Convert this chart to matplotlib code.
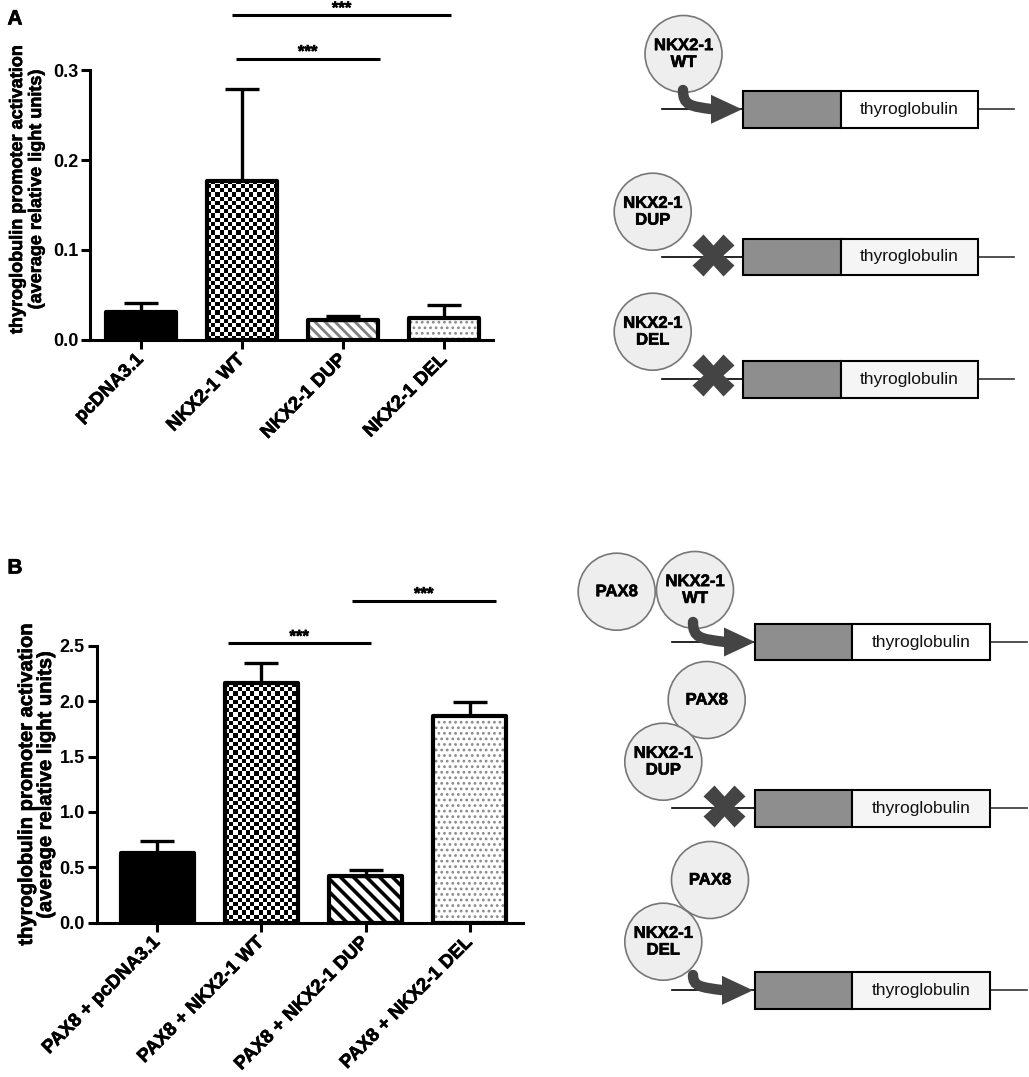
import numpy as np
import matplotlib
matplotlib.use("Agg")
import matplotlib.pyplot as plt
import matplotlib.patheffects as pe
from matplotlib.patches import Circle, Rectangle, Polygon, PathPatch
from matplotlib.path import Path

plt.rcParams['font.family'] = ['Liberation Sans', 'DejaVu Sans']
plt.rcParams['font.weight'] = 'bold'
plt.rcParams['hatch.linewidth'] = 1.2

W, H = 1029, 1077

# panel A : NKX2-1 alone
labels_a = ["pcDNA3.1", "NKX2-1 WT", "NKX2-1 DUP", "NKX2-1 DEL"]
means_a = [0.031, 0.177, 0.022, 0.025]
sem_a = [0.010, 0.102, 0.005, 0.014]

# panel B : PAX8 + NKX2-1
labels_b = ["PAX8 + pcDNA3.1", "PAX8 + NKX2-1 WT", "PAX8 + NKX2-1 DUP", "PAX8 + NKX2-1 DEL"]
means_b = [0.63, 2.16, 0.42, 1.87]
sem_b = [0.107, 0.18, 0.06, 0.125]

fills = ["solid", "checker", "stripes", "dots"]
ylabel = "thyroglobulin promoter activation\n(average relative light units)"


def rect(l, t, r, b):
    # pixel box -> figure fraction
    return [l / W, 1 - b / H, (r - l) / W, (b - t) / H]


def px_box(ax, bar):
    x0, y0 = bar.get_x(), bar.get_y()
    (p0, q0), (p1, q1) = ax.transData.transform([(x0, y0), (x0 + bar.get_width(), y0 + bar.get_height())])
    return p0, q0, p1, q1


def checker(ax, bar, cell=4.2):
    p0, q0, p1, q1 = px_box(ax, bar)
    nx = int(np.ceil((p1 - p0) / cell))
    ny = int(np.ceil((q1 - q0) / cell))
    ii, jj = np.indices((ny, nx))
    img = (ii + jj) % 2
    sx = bar.get_width() / (p1 - p0)
    sy = bar.get_height() / (q1 - q0)
    x0, y0 = bar.get_x(), bar.get_y()
    im = ax.imshow(img, cmap='gray', extent=[x0, x0 + nx * cell * sx, y0, y0 + ny * cell * sy],
                   origin='lower', interpolation='nearest', aspect='auto', zorder=2.5)
    im.set_clip_path(bar)


def stripes(ax, bar, gap, lw, color):
    p0, q0, p1, q1 = px_box(ax, bar)
    h = q1 - q0
    inv = ax.transData.inverted()
    c = p0 - h - gap
    while c < p1 + gap:
        pts = inv.transform([(c, q1 + 5), (c + h + 10, q0 - 5)])
        ln, = ax.plot(pts[:, 0], pts[:, 1], color=color, lw=lw, solid_capstyle='butt', zorder=2.5)
        ln.set_clip_path(bar)
        c += gap


def bar_chart(ax, labels, means, sem, ymax, step, xlim, width, stripe_gap, stripe_lw, stripe_col):
    x = np.arange(len(labels))
    ax.set_xlim(*xlim)
    ax.set_ylim(0, ymax)
    ax.errorbar(x, means, yerr=[np.zeros(len(x)), sem], fmt='none', ecolor='black',
                elinewidth=2.4, capsize=12.5, capthick=2.4, zorder=2)
    bars = ax.bar(x, means, width=width, facecolor='none', edgecolor='black', lw=3, zorder=3)
    for b, f in zip(bars, fills):
        b.set_joinstyle('round')
        if f == "solid":
            b.set_facecolor('black')
        elif f == "checker":
            checker(ax, b)
        elif f == "stripes":
            stripes(ax, b, stripe_gap, stripe_lw, stripe_col)
        elif f == "dots":
            ax.bar(b.get_x() + b.get_width() / 2, b.get_height(), width=width,
                   facecolor='white', edgecolor='#8a8a8a', lw=0, hatch='...', zorder=2.2)
    ax.set_xlim(*xlim)
    ax.set_ylim(0, ymax)
    for s in ['top', 'right']:
        ax.spines[s].set_visible(False)
    for s in ['left', 'bottom']:
        ax.spines[s].set_linewidth(2.2)
    ax.set_yticks(np.arange(0, ymax + step / 2, step))
    ax.yaxis.set_major_formatter(matplotlib.ticker.FormatStrFormatter('%.1f'))
    ax.set_xticks(x)
    ax.set_xticklabels(labels, rotation=45, ha='right', va='center', rotation_mode='anchor')
    ax.tick_params(width=2.2, length=6.5, labelsize=13, pad=2)
    ax.tick_params(axis='x', labelsize=13.5, pad=6)
    ax.patch.set_alpha(0)


def sig(ax, x0, x1, y, text="***"):
    ax.plot([x0, x1], [y, y], color='black', lw=2.2, solid_capstyle='butt', clip_on=False)
    ax.annotate(text, ((x0 + x1) / 2, y), xytext=(0, 1.5), textcoords='offset points',
                ha='center', va='baseline', fontsize=12, annotation_clip=False)


fig = plt.figure(figsize=(W / 100, H / 100), dpi=100)

ax_a = fig.add_axes(rect(90, 70, 493, 340))
bar_chart(ax_a, labels_a, means_a, sem_a, 0.3, 0.1, (-0.5, 3.48), 0.69, 10, 2.0, '#7f7f7f')
sig(ax_a, 0.90, 3.07, 0.361)
sig(ax_a, 0.94, 2.36, 0.3126)

ax_b = fig.add_axes(rect(96.7, 645.7, 523, 922.7))
bar_chart(ax_b, labels_b, means_b, sem_b, 2.5, 0.5, (-0.58, 3.51), 0.70, 13, 2.6, 'black')
sig(ax_b, 0.676, 2.05, 2.52)
sig(ax_b, 1.865, 3.25, 2.906)

fig.text(27 / W, 1 - 190 / H, ylabel, rotation=90, ha='center', va='center',
         fontsize=13, linespacing=1.15, multialignment='center')
fig.text(36 / W, 1 - 785 / H, ylabel, rotation=90, ha='center', va='center',
         fontsize=14.5, linespacing=1.0, multialignment='center')
fig.text(15 / W, 1 - 19 / H, "A", ha='center', va='center', fontsize=15)
fig.text(15 / W, 1 - 568 / H, "B", ha='center', va='center', fontsize=15)

# schematic constructs, drawn in pixel coordinates
dg = fig.add_axes([0, 0, 1, 1])
dg.set_xlim(0, W)
dg.set_ylim(H, 0)
dg.axis('off')

DARK = '#444444'
gene_texts = []


def construct(yl, bx0, gx1, bx1, lx0, lx1, right_col, circles, mark, mx, my=None, tip=None):
    dg.plot([lx0, bx0], [yl, yl], color='black', lw=1.2, zorder=1)
    dg.plot([bx1, lx1], [yl, yl], color='#333333', lw=1.2, zorder=1)
    dg.add_patch(Rectangle((bx0, yl - 18.3), gx1 - bx0, 36.6, facecolor='#8e8e8e',
                           edgecolor='black', lw=1.5, zorder=2))
    dg.add_patch(Rectangle((gx1, yl - 18.3), bx1 - gx1, 36.6, facecolor=right_col,
                           edgecolor='black', lw=1.5, zorder=2))
    gene_texts.append(dg.text((gx1 + bx1) / 2, yl, "thyroglobulin", ha='center', va='center',
                              fontsize=12.5, fontweight='normal', color='#111111', zorder=3))
    for txt, cx, cy in circles:
        dg.add_patch(Circle((cx, cy), 38.5, facecolor='#eeeeee', edgecolor='#777777',
                            lw=1.2, zorder=3))
        dg.text(cx, cy, txt, ha='center', va='center', fontsize=12, linespacing=1.15, zorder=4)
    if mark == "arrow":
        x0, y0 = mx, my
        back = tip - 31
        path = Path([(x0, y0), (x0, yl - 4), (x0 + 7, yl - 3), (back + 2, yl)],
                    [Path.MOVETO, Path.CURVE4, Path.CURVE4, Path.CURVE4])
        dg.add_patch(PathPatch(path, facecolor='none', edgecolor=DARK, lw=7.5,
                               capstyle='round', zorder=5))
        dg.add_patch(Polygon([(back, yl - 14.5), (tip, yl), (back, yl + 14.5)], closed=True,
                             facecolor=DARK, edgecolor='none', zorder=5))
    else:
        dg.plot([mx], [my], marker='X', ms=30, color=DARK, mec='none', zorder=5)


# panel A constructs
construct(109.3, 742.7, 841, 978.3, 662, 1014, 'white',
          [("NKX2-1\nWT", 683.5, 54)], "arrow", 683, 90, tip=742)
construct(256.8, 742.7, 841, 978.3, 662, 1014, '#f5f5f5',
          [("NKX2-1\nDUP", 652.7, 211.7)], "cross", 713, 255)
construct(379.3, 742.7, 841, 978.3, 662, 1014, '#f5f5f5',
          [("NKX2-1\nDEL", 652.7, 331.7)], "cross", 713, 375)

# panel B constructs
construct(642, 755, 852.3, 990, 672, 1027, 'white',
          [("PAX8", 616.7, 591.7), ("NKX2-1\nWT", 695, 590)], "arrow", 693, 622, tip=755)
construct(808.3, 755, 852.3, 990, 672, 1027, '#f5f5f5',
          [("PAX8", 706.7, 700), ("NKX2-1\nDUP", 663.3, 761.7)], "cross", 724, 806)
construct(990.3, 755, 852.3, 990, 672, 1027, '#f5f5f5',
          [("PAX8", 710, 880), ("NKX2-1\nDEL", 663.3, 941.7)], "arrow", 693, 975, tip=753)

# the scanned figure has slightly heavier type than Liberation Bold
for t in fig.findobj(matplotlib.text.Text):
    if t.get_text() and t not in gene_texts:
        t.set_path_effects([pe.withStroke(linewidth=0.45, foreground=t.get_color())])

fig.savefig('out.png', dpi=100)
